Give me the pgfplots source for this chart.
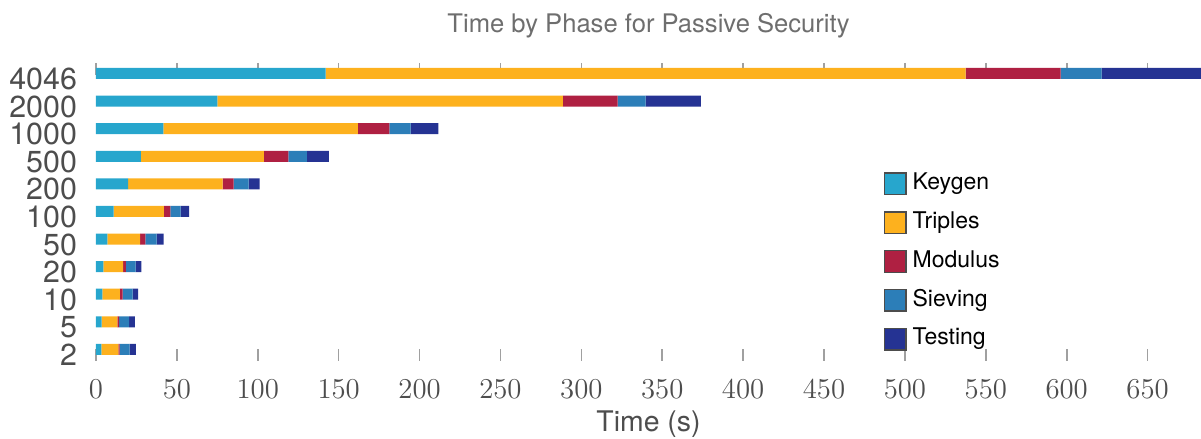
\documentclass[border=0pt]{standalone}
\usepackage{fontspec}
\setsansfont{TeX Gyre Heros}
\usepackage{pgfplots}
\pgfplotsset{compat=1.18}
\usepackage{pgfplotstable}
\definecolor{ckey}{HTML}{27A6CD}
\definecolor{ctri}{HTML}{FDB11E}
\definecolor{cmod}{HTML}{AF2042}
\definecolor{csie}{HTML}{2C7EB8}
\definecolor{ctes}{HTML}{253393}
\definecolor{txt}{HTML}{4D4D4D}
\definecolor{ttl}{HTML}{6E6E6E}
\definecolor{tck}{HTML}{A0A0A0}
% idx  keygen triples modulus sieving testing
\pgfplotstableread{
idx key tri mod sie tes
0  3.3   10.5  0.8  6.2  3.9
1  3.5   9.7   1.1  6.2  3.6
2  3.9   10.9  1.6  6.2  3.5
3  4.5   12.2  1.8  6.0  3.5
4  7.0   20.2  3.3  7.0  4.3
5  10.9  31.1  3.9  6.4  5.2
6  19.8  58.5  6.8  9.3  6.8
7  27.8  76.0  15.1 11.5 13.6
8  41.6  120.3 19.4 13.2 17.1
9  75.0  213.6 33.8 17.3 34.2
10 142.0 395.5 58.7 25.4 61.4
}\phases
\begin{document}
\begin{tikzpicture}
\begin{axis}[
  scale only axis,
  width=552.5pt, height=149pt,
  xbar stacked,
  bar width=5.5pt,
  xmin=0, xmax=683,
  ymin=-0.42, ymax=10.38,
  ytick={0,...,10},
  yticklabels={2,5,10,20,50,100,200,500,1000,2000,4046},
  ytick style={draw=none},
  yticklabel style={font=\sffamily\fontsize{15.2}{17}\selectfont, text=txt, xshift=-6pt, yshift=-2.75pt},
  xtick={0,50,...,650},
  xtick pos=both,
  tick align=inside,
  major tick length=6pt,
  xtick style={draw=tck, line width=0.8pt},
  xticklabel style={font=\fontsize{14.5}{16}\selectfont, text=txt, yshift=-6pt},
  axis line style={draw=none},
  xlabel={Time (s)},
  xlabel style={font=\sffamily\fontsize{14.2}{16}\selectfont, text=txt, yshift=1pt},
  title={Time by Phase for Passive Security},
  title style={font=\sffamily\fontsize{12.8}{15}\selectfont, text=ttl, yshift=3pt},
  clip=true,
  legend cell align=left,
  legend image code/.code={\draw[#1, draw=black!70, line width=0.7pt] (0pt,-5.4pt) rectangle (10.8pt,5.4pt);},
  legend style={at={(rel axis cs:0.707,0.652)}, anchor=north west, draw=none, fill=none,
    font=\sffamily\fontsize{11.5}{13}\selectfont, row sep=6.6pt,
    nodes={inner sep=1pt, text height=8.3pt, text depth=2.5pt},
    /tikz/every odd column/.append style={column sep=2pt}},
]
\addplot[fill=ckey, draw=none] table[x=key, y=idx] {\phases};
\addplot[fill=ctri, draw=none] table[x=tri, y=idx] {\phases};
\addplot[fill=cmod, draw=none] table[x=mod, y=idx] {\phases};
\addplot[fill=csie, draw=none] table[x=sie, y=idx] {\phases};
\addplot[fill=ctes, draw=none] table[x=tes, y=idx] {\phases};
\legend{Keygen, Triples, Modulus, Sieving, Testing}
\coordinate (bl) at (rel axis cs:0,0);
\coordinate (tr) at (rel axis cs:1,1);
\end{axis}
\pgfresetboundingbox
\path ([xshift=-48pt, yshift=-39pt]bl) rectangle ([yshift=31.5pt]tr);
\end{tikzpicture}
\end{document}
